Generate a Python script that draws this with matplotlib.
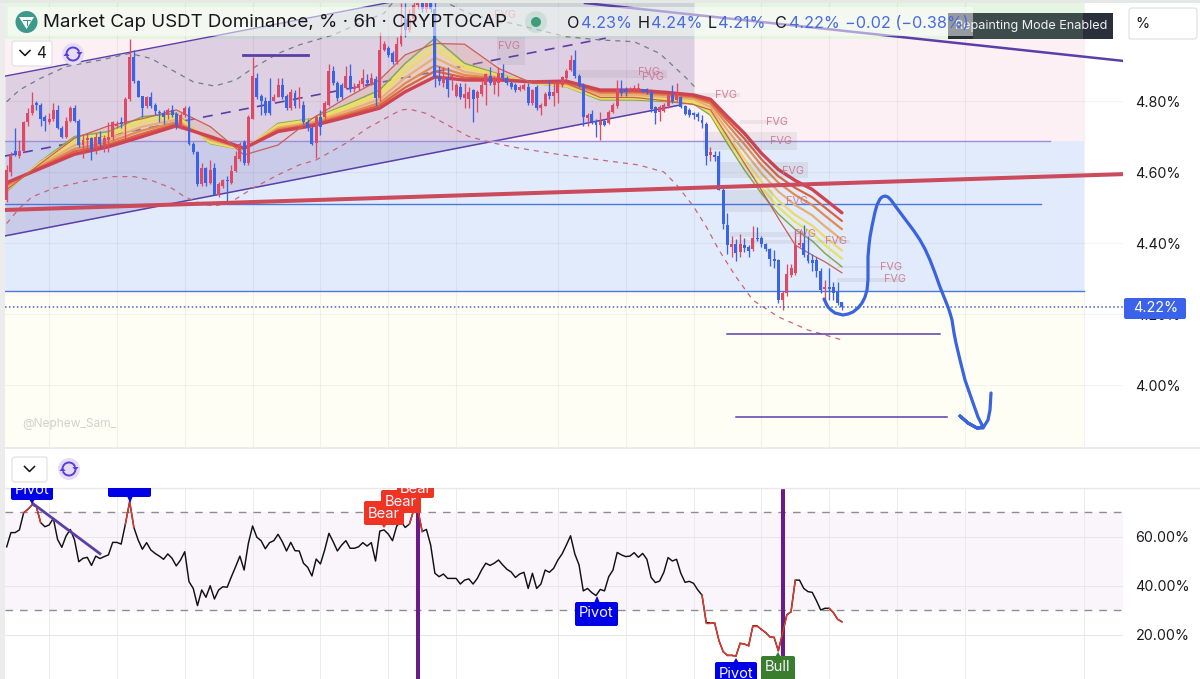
import matplotlib
matplotlib.use("Agg")
import numpy as np
import matplotlib.pyplot as plt
from matplotlib.patches import Rectangle, FancyBboxPatch, Circle, Polygon, Arc

plt.rcParams['font.family'] = ['Inter', 'DejaVu Sans']

# ---------- price candles (one per 6h bar) ----------
opens = [4.52,4.60,4.66,4.645,4.66,4.74,4.765,4.795,4.79,4.755,
 4.74,4.75,4.775,4.725,4.70,4.745,4.78,4.745,4.675,4.69,
 4.695,4.665,4.70,4.67,4.69,4.70,4.73,4.742,4.735,4.805,
 4.925,4.855,4.815,4.785,4.81,4.79,4.77,4.767,4.76,4.775,
 4.763,4.73,4.76,4.78,4.68,4.655,4.565,4.61,4.57,4.61,
 4.535,4.56,4.578,4.57,4.604,4.636,4.685,4.626,4.75,4.865,
 4.815,4.80,4.80,4.80,4.812,4.845,4.815,4.78,4.823,4.805,
 4.79,4.742,4.723,4.683,4.755,4.755,4.79,4.885,4.85,4.845,
 4.838,4.87,4.833,4.838,4.848,4.86,4.85,4.863,4.808,4.945,
 4.948,4.935,4.91,4.96,5.03,5.0,5.03,5.07,5.075,5.06,
 5.075,5.06,4.867,4.85,4.865,4.865,4.815,4.84,4.808,4.805,
 4.83,4.808,4.82,4.845,4.87,4.845,4.85,4.88,4.865,4.85,
 4.845,4.83,4.835,4.84,4.795,4.84,4.78,4.785,4.825,4.815,
 4.822,4.845,4.865,4.888,4.915,4.87,4.845,4.752,4.763,4.745,
 4.733,4.745,4.737,4.77,4.785,4.835,4.835,4.83,4.83,4.83,
 4.833,4.835,4.824,4.782,4.77,4.773,4.786,4.817,4.803,4.812,
 4.786,4.775,4.765,4.763,4.746,4.735,4.648,4.648,4.645,4.55,
 4.451,4.39,4.397,4.375,4.395,4.39,4.382,4.415,4.413,4.398,
 4.382,4.354,4.352,4.24,4.258,4.31,4.315,4.395,4.40,4.366,
 4.352,4.352,4.32,4.27,4.275,4.275,4.263,4.233]
closes = [4.606,4.648,4.648,4.66,4.74,4.765,4.79,4.79,4.75,4.743,
 4.75,4.775,4.725,4.70,4.745,4.78,4.745,4.675,4.69,4.695,
 4.665,4.70,4.68,4.695,4.70,4.74,4.735,4.735,4.805,4.925,
 4.855,4.812,4.78,4.81,4.785,4.773,4.765,4.755,4.775,4.76,
 4.733,4.76,4.78,4.68,4.655,4.565,4.61,4.57,4.605,4.535,
 4.567,4.577,4.575,4.604,4.645,4.68,4.625,4.756,4.87,4.812,
 4.80,4.765,4.765,4.812,4.845,4.812,4.78,4.826,4.785,4.81,
 4.74,4.723,4.68,4.755,4.728,4.795,4.885,4.85,4.808,4.812,
 4.87,4.833,4.84,4.848,4.864,4.85,4.866,4.808,4.943,4.96,
 4.93,4.91,4.96,4.99,5.0,5.03,5.07,5.09,5.06,5.075,
 5.06,4.868,4.855,4.87,4.835,4.87,4.845,4.81,4.82,4.825,
 4.805,4.825,4.845,4.875,4.85,4.865,4.88,4.865,4.85,4.84,
 4.83,4.84,4.845,4.795,4.83,4.78,4.79,4.82,4.815,4.825,
 4.85,4.867,4.885,4.915,4.87,4.842,4.755,4.76,4.74,4.733,
 4.745,4.733,4.77,4.79,4.835,4.822,4.826,4.835,4.836,4.838,
 4.827,4.824,4.777,4.767,4.782,4.789,4.817,4.80,4.817,4.782,
 4.763,4.76,4.761,4.756,4.737,4.645,4.655,4.643,4.55,4.453,
 4.395,4.397,4.373,4.398,4.385,4.378,4.413,4.41,4.398,4.382,
 4.354,4.348,4.24,4.258,4.313,4.33,4.395,4.40,4.366,4.348,
 4.345,4.32,4.268,4.275,4.27,4.26,4.23,4.22]
highs = [4.62,4.655,4.723,4.69,4.745,4.78,4.825,4.80,4.795,4.76,
 4.765,4.795,4.79,4.73,4.755,4.785,4.79,4.75,4.705,4.71,
 4.70,4.71,4.715,4.705,4.74,4.745,4.745,4.755,4.81,4.975,
 4.945,4.86,4.815,4.815,4.825,4.795,4.775,4.775,4.78,4.79,
 4.77,4.765,4.785,4.785,4.685,4.66,4.625,4.615,4.634,4.625,
 4.572,4.58,4.588,4.62,4.66,4.685,4.69,4.76,4.923,4.88,
 4.82,4.81,4.865,4.82,4.865,4.865,4.82,4.835,4.83,4.84,
 4.80,4.75,4.73,4.76,4.775,4.80,4.905,4.90,4.855,4.85,
 4.90,4.905,4.85,4.86,4.89,4.875,4.88,4.87,4.995,4.97,
 4.955,4.94,4.98,5.075,5.075,5.06,5.08,5.12,5.12,5.10,
 5.10,5.09,4.90,4.895,4.895,4.875,4.85,4.85,4.85,4.84,
 4.835,4.83,4.855,4.88,4.895,4.87,4.895,4.905,4.87,4.855,
 4.85,4.845,4.85,4.85,4.835,4.845,4.795,4.825,4.86,4.855,
 4.855,4.87,4.89,4.93,4.945,4.875,4.85,4.765,4.775,4.75,
 4.77,4.75,4.775,4.795,4.86,4.86,4.84,4.84,4.845,4.85,
 4.835,4.838,4.83,4.785,4.79,4.795,4.82,4.845,4.85,4.815,
 4.79,4.78,4.77,4.77,4.76,4.74,4.67,4.66,4.66,4.555,
 4.485,4.42,4.41,4.425,4.413,4.395,4.447,4.445,4.42,4.40,
 4.385,4.38,4.355,4.265,4.34,4.34,4.437,4.437,4.452,4.42,
 4.37,4.36,4.33,4.295,4.33,4.29,4.29,4.235]
lows = [4.515,4.59,4.645,4.64,4.655,4.73,4.76,4.775,4.73,4.715,
 4.735,4.745,4.72,4.695,4.695,4.74,4.74,4.67,4.64,4.665,
 4.635,4.65,4.67,4.655,4.655,4.69,4.725,4.725,4.69,4.80,
 4.85,4.81,4.755,4.78,4.78,4.76,4.74,4.735,4.75,4.755,
 4.72,4.72,4.755,4.675,4.65,4.56,4.56,4.56,4.565,4.535,
 4.53,4.555,4.516,4.565,4.60,4.63,4.62,4.62,4.75,4.805,
 4.76,4.76,4.76,4.80,4.81,4.805,4.775,4.775,4.78,4.78,
 4.735,4.715,4.675,4.64,4.705,4.75,4.785,4.845,4.80,4.805,
 4.835,4.825,4.825,4.83,4.84,4.845,4.845,4.785,4.80,4.94,
 4.925,4.905,4.905,4.955,4.98,4.995,5.02,5.06,5.05,5.05,
 5.05,4.84,4.845,4.84,4.81,4.83,4.81,4.805,4.78,4.78,
 4.74,4.77,4.815,4.79,4.845,4.82,4.815,4.86,4.845,4.835,
 4.825,4.828,4.83,4.79,4.79,4.775,4.76,4.785,4.805,4.785,
 4.795,4.84,4.86,4.885,4.865,4.84,4.73,4.73,4.735,4.70,
 4.69,4.73,4.735,4.765,4.78,4.815,4.815,4.825,4.825,4.825,
 4.825,4.82,4.77,4.735,4.745,4.77,4.78,4.795,4.80,4.78,
 4.76,4.755,4.75,4.745,4.725,4.62,4.63,4.63,4.548,4.44,
 4.37,4.36,4.35,4.36,4.375,4.36,4.378,4.405,4.39,4.378,
 4.335,4.33,4.23,4.21,4.25,4.305,4.31,4.39,4.36,4.345,
 4.32,4.305,4.26,4.225,4.24,4.24,4.225,4.21]

# ---------- moving-average ribbon, sampled at these bars ----------
ribbon_bars = [0,8,16,24,32,40,48,56,64,72,80,88,94,101,108,116,124,132,140,148,156,162,166,170,174,178,182,186,190,193,197]
ma_red = [4.57,4.61,4.65,4.671,4.70,4.73,4.70,4.667,4.714,4.73,4.754,4.78,4.826,4.868,4.859,4.859,4.854,4.856,4.831,4.831,4.824,4.817,4.805,4.756,4.709,4.653,4.607,4.576,4.551,4.523,4.485]
ma_rust = [4.566,4.613,4.658,4.677,4.708,4.735,4.697,4.666,4.717,4.733,4.759,4.788,4.838,4.884,4.866,4.862,4.853,4.853,4.827,4.827,4.82,4.813,4.798,4.745,4.694,4.636,4.588,4.555,4.529,4.50,4.462]
ma_orange = [4.562,4.616,4.665,4.684,4.717,4.74,4.694,4.665,4.721,4.736,4.764,4.795,4.85,4.90,4.873,4.864,4.853,4.85,4.823,4.823,4.816,4.81,4.792,4.733,4.678,4.619,4.57,4.535,4.507,4.477,4.439]
ma_tan = [4.557,4.62,4.675,4.692,4.728,4.747,4.69,4.665,4.725,4.74,4.771,4.805,4.866,4.922,4.882,4.867,4.852,4.847,4.817,4.817,4.811,4.805,4.783,4.718,4.658,4.597,4.545,4.507,4.478,4.447,4.409]
ma_gold = [4.552,4.624,4.685,4.70,4.739,4.754,4.686,4.664,4.73,4.744,4.778,4.816,4.882,4.944,4.892,4.871,4.851,4.844,4.811,4.811,4.806,4.80,4.774,4.703,4.637,4.574,4.52,4.479,4.449,4.417,4.379]
ma_yellow = [4.549,4.627,4.692,4.707,4.748,4.76,4.683,4.663,4.733,4.747,4.784,4.823,4.894,4.96,4.899,4.873,4.851,4.842,4.807,4.807,4.802,4.796,4.767,4.691,4.621,4.557,4.501,4.459,4.428,4.394,4.356]
ma_green = [4.545,4.63,4.70,4.714,4.756,4.765,4.68,4.662,4.737,4.75,4.789,4.831,4.906,4.977,4.906,4.876,4.85,4.84,4.803,4.803,4.798,4.792,4.76,4.68,4.606,4.54,4.482,4.438,4.406,4.371,4.333]
ma_fast = [4.55,4.624,4.695,4.73,4.75,4.775,4.728,4.648,4.676,4.75,4.808,4.86,4.93,4.962,4.96,4.892,4.85,4.85,4.81,4.81,4.80,4.79,4.775,4.70,4.625,4.549,4.47,4.394,4.366,4.347,4.316]

# ---------- envelope curves ----------
upper_bars = [0,3,8,14,22,29,34,39,44,49,54,58,64,69,77,85,89,96,104,110,119,132,140,148,154,160,163]
upper_vals = [4.798,4.831,4.864,4.897,4.915,4.934,4.92,4.887,4.854,4.842,4.859,4.892,4.934,4.958,4.986,5.028,5.047,5.15,5.075,5.042,5.019,4.981,4.972,4.967,4.934,4.868,4.831]
lower_bars = [0,3,6,11,18,25,30,34,39,42,46,49,53,58,64,69,73,80,85,93,95,99,104,109,115,121,131,140,149,155,158,162,165,168,172,176,182,189,197]
lower_vals = [4.455,4.498,4.53,4.554,4.573,4.587,4.587,4.577,4.554,4.53,4.51,4.504,4.516,4.554,4.592,4.62,4.634,4.681,4.723,4.775,4.777,4.765,4.732,4.70,4.681,4.667,4.648,4.634,4.62,4.60,4.564,4.503,4.446,4.38,4.305,4.239,4.192,4.155,4.127]

# ---------- RSI ----------
rsi = [56,61.8,61.8,62.9,69.9,71.3,73.1,72.4,65.9,64.2,
 64.9,67.6,59,55.8,60.4,63.1,58.8,49.9,51.3,51.7,
 48.4,52.2,51.2,52,52.7,57.8,57.8,57.1,65.3,74.4,
 63.9,58.8,55,57.7,54.7,53.3,52.2,50.9,53.1,51.3,
 48.2,50.6,54,41.8,39,32,38.4,35.4,40.1,34.7,
 38.4,39.7,39.5,43.8,47.9,52.2,46.5,57.4,64.5,59.9,
 58.5,55.2,57.7,58.5,61.1,58.1,54.3,57.8,54.4,54.3,
 49.3,47.6,44.1,51,49,54.7,61.5,58.1,54.3,56.7,
 58.5,55.4,55.4,56,57.7,56.3,57.7,50.2,62.4,62.9,
 61.2,58.5,64.5,66.3,63.9,65.3,71,71,62.2,63.1,
 56.7,45.2,43.8,44.9,43.1,43.1,43.1,40.8,42.4,42.9,
 40.8,43.1,46.5,49.3,48.4,49.3,50.6,48.6,46.8,45.7,
 43.5,44.9,45.6,39,45.2,39,40.8,46.5,45.6,47.2,
 50.6,53.1,56.7,60.5,53.1,48.6,38,39,37.3,36.1,
 38.6,38,43.8,46.5,53.7,52.7,52,52.2,53.6,51.7,
 53.3,50.9,43.5,41.4,42,45.6,51.6,50.2,50.9,45.2,
 41.5,41.9,41.1,38.4,36.3,25,25,24.8,17.7,13.2,
 11.7,11.7,11.4,16.6,16.3,15.6,23.7,23.7,22.3,21,
 19.3,19,13.6,20.7,28.2,29.5,42.4,42.4,39,37.7,
 37.4,34,30.2,30.9,30.9,29.1,26.4,25.4]

price_ticks = [4.00, 4.20, 4.40, 4.60, 4.80]
rsi_ticks = [20, 40, 60]
grid_bars = [10,26,42,58,74,90,106,130,146,162,178,194,210,226,254]
last_price = 4.22

# trend lines / levels: (bar_start, bar_end, price_start, price_end)
channel_upper = (-0.4, 162, 4.87, 5.242)
channel_mid = (-0.4, 141.3, 4.645, 4.977)
channel_lower = (-0.4, 159, 4.42, 4.789)
red_trend = (-0.4, 263.3, 4.493, 4.594)
purple_trend = (136.4, 263.3, 5.076, 4.913)
short_level = (55.7, 71, 4.93, 4.93)
target_1 = (170, 220.1, 4.144, 4.144)
target_2 = (172, 221.8, 3.91, 3.91)
zone_top, zone_a, zone_b, zone_c, zone_bottom = 5.076, 4.975, 4.687, 4.265, 3.8254
level_a, level_b, level_c = 4.687, 4.51, 4.265

# ---------- annotation geometry (screen pixels of the 1200x679 canvas) ----------
fvg_labels = [(505,15),(509,46),(649,72),(653,77),(726,95),(777,122),(781,141),(793,171),(797,201),(805,234),(836,241),(891,267),(895,279)]
fvg_boxes = [(497,37,525,65),(577,70,667,78),(693,93,740,97),(740,120,787,124),(703,132,797,150),(720,162,808,178),(725,190,773,212),(730,232,813,237),(730,240,850,243),(837,266,903,268),(837,278,903,282)]
stroke_x = [824,826,828,831,835,839,843,848,853,858,862,865,867,868,868,869,870,872,875,877,880,882,885,888,891,896,902,908,914,920,925,930,935,940,944,948,950,952,954,956,960,965,972,978,983,977,968,960,968,977,983,988,990,991]
stroke_y = [299,303,307,310,313,314,315,314,312,308,303,297,290,280,257,245,237,226,212,205,199,197,196,197,200,207,215,223,231,240,249,260,273,287,297,307,313,320,333,343,360,380,400,417,427,428,423,416,423,428,428,420,410,393]

FIG_W, FIG_H = 1200, 679
fig = plt.figure(figsize=(12, 6.79), dpi=100, facecolor='white')

def pane(x0, y0, x1, y1, z=1):
    return fig.add_axes([x0/FIG_W, 1-y1/FIG_H, (x1-x0)/FIG_W, (y1-y0)/FIG_H], zorder=z)

UP, DOWN = '#dd4a66', '#3a63e6'
GRID = '#e6e6ea'
PURPLE = '#5b3fa8'

# ================= main pane =================
ax = pane(5, 0, 1123, 447)
ax.set_xlim(-0.4, 263.3)
ax.set_ylim(zone_bottom, 5.0845)
ax.set_facecolor('white')
for s in ax.spines.values():
    s.set_visible(False)

for lo, hi, col in [(zone_a, zone_top+.01, '#e6f4e2'), (zone_b, zone_a, '#fdf0f4'),
                    (zone_c, zone_b, '#e2ebfb'), (zone_bottom, zone_c, '#fffef4')]:
    ax.fill_between([-0.4, 254], lo, hi, color=col, lw=0, zorder=0)

for b in grid_bars:
    ax.axvline(b, color='#000000', alpha=0.05, lw=0.8, zorder=1)
for p in price_ticks:
    ax.plot([-0.4, 263.3], [p, p], color='#000000', alpha=0.045, lw=0.8, zorder=1)

def line_val(seg, b):
    return seg[2] + (seg[3]-seg[2])*(b-seg[0])/(seg[1]-seg[0])

ax.fill_between([-0.4, 162], [channel_lower[2], line_val(channel_lower, 162)],
                [channel_upper[2], channel_upper[3]], color='#5a3a9a', alpha=0.18, lw=0, zorder=1.5)
ax.plot(channel_upper[:2], channel_upper[2:], color=PURPLE, lw=1.0, zorder=2)
ax.plot(channel_lower[:2], channel_lower[2:], color=PURPLE, lw=1.1, zorder=2)
ax.plot(channel_mid[:2], channel_mid[2:], color=PURPLE, lw=1.2, ls=(0, (6, 5)), zorder=2)

ax.plot([-0.4, 246], [level_a, level_a], color='#9c8fd8', lw=1.0, zorder=2)
ax.plot([-0.4, 244], [level_b, level_b], color='#4a78e0', lw=1.0, zorder=2)
ax.plot([-0.4, 254], [level_c, level_c], color='#4a78e0', lw=1.0, zorder=2)

ax.plot(upper_bars, upper_vals, color='#6f7f80', lw=0.9, ls=(0, (4, 4)), zorder=2.2)
ax.plot(lower_bars, lower_vals, color='#c8667a', lw=0.9, ls=(0, (4, 4)), zorder=2.2)

# ribbon
rb = np.array(ribbon_bars)
ax.fill_between(ribbon_bars, ma_fast, ma_green, where=(np.array(ma_fast) > np.array(ma_green)) & (rb <= 162),
                interpolate=True, color='#e2a98a', alpha=0.3, lw=0, zorder=2.4)
ax.fill_between(ribbon_bars, ma_red, ma_green, where=rb <= 166, color='#f0cf9a', alpha=0.3, lw=0, zorder=2.5)
for vals, col, lw in [(ma_green, '#8aa84f', 1.1), (ma_yellow, '#e6e45c', 1.6), (ma_gold, '#f0d868', 1.6),
                      (ma_tan, '#e8ae72', 1.6), (ma_orange, '#e28a50', 1.6), (ma_rust, '#db6440', 1.6),
                      (ma_red, '#cf4452', 2.4)]:
    ax.plot(ribbon_bars, vals, color=col, lw=lw, zorder=3, solid_capstyle='round')
ax.plot(ribbon_bars, ma_fast, color='#c8605a', lw=0.9, zorder=3.1)

# candles
o, c, h, l = map(np.array, (opens, closes, highs, lows))
bars = np.arange(len(o))
colors = [UP if a >= b else DOWN for a, b in zip(c, o)]
ax.vlines(bars, l, h, colors=colors, lw=0.95, zorder=4)
ax.bar(bars, np.abs(c-o), bottom=np.minimum(o, c), width=0.7, color=colors, lw=0, zorder=4.1)

ax.plot(red_trend[:2], red_trend[2:], color='#cb4a5c', lw=2.9, zorder=5, solid_capstyle='butt')
ax.plot(purple_trend[:2], purple_trend[2:], color=PURPLE, lw=1.8, zorder=5)
ax.plot(short_level[:2], short_level[2:], color=PURPLE, lw=2.0, zorder=5)
ax.plot(target_1[:2], target_1[2:], color=PURPLE, lw=1.1, zorder=5)
ax.plot(target_2[:2], target_2[2:], color=PURPLE, lw=1.1, zorder=5)
ax.plot([-0.4, 263.3], [last_price, last_price], color='#3a63e6', lw=1.1, ls=(0, (1, 1.6)), zorder=5)

ax.xaxis.set_visible(False)
ax.yaxis.tick_right()
ax.set_yticks(price_ticks)
ax.set_yticklabels([f'{p:.2f}%' for p in price_ticks], fontsize=10.3, color='#1c1c20')
ax.tick_params(axis='y', length=0, pad=9)

# ================= RSI pane =================
ar = pane(5, 488, 1123, 679)
ar.set_xlim(-0.4, 263.3)
ar.set_ylim(2.04, 80)
for s in ar.spines.values():
    s.set_visible(False)
ar.fill_between([-0.4, 263.3], 30, 70, color='#f9f5fb', lw=0, zorder=0)
for b in grid_bars:
    ar.axvline(b, color=GRID, lw=0.7, alpha=.8, zorder=1)
for t in rsi_ticks:
    ar.plot([-0.4, 263.3], [t, t], color=GRID, lw=0.7, zorder=1)
for t in (30, 70):
    ar.plot([-0.4, 263.3], [t, t], color='#8e8e92', lw=1.0, ls=(0, (5.5, 5)), zorder=1.5)
ar.plot(np.arange(len(rsi)), rsi, color='#111111', lw=1.05, zorder=3)
rv = np.array(rsi)
for i in range(len(rv)-1):
    if rv[i] > 70 or rv[i+1] > 70 or (rv[i] < 30 or rv[i+1] < 30) or 164 <= i <= 185:
        ar.plot([i, i+1], [rv[i], rv[i+1]], color='#e0392b', lw=1.05, zorder=3.1)
ar.axvline(97, color='#6a1b85', lw=2.9, zorder=2.5)
ar.axvline(183, color='#6a1b85', lw=2.9, zorder=2.5)
ar.plot([6.2, 22], [73.6, 53.2], color=PURPLE, lw=2.0, zorder=3.2)
ar.xaxis.set_visible(False)
ar.yaxis.tick_right()
ar.set_yticks(rsi_ticks)
ar.set_yticklabels([f'{t:.2f}%' for t in rsi_ticks], fontsize=10.3, color='#1c1c20')
ar.tick_params(axis='y', length=0, pad=9)

# ================= RSI labels overlay =================
al = pane(5, 488, 1123, 679, z=3)
al.set_xlim(5, 1123)
al.set_ylim(679, 488)
al.axis('off')
al.patch.set_alpha(0)

def tag(x0, y0, x1, y1, tipx, tipy, col, text=None, ty=None, tx=None, up=False):
    al.add_patch(FancyBboxPatch((x0+2, y0+2), x1-x0-4, y1-y0-4, boxstyle='round,pad=2,rounding_size=2',
                                fc=col, ec='none', zorder=5))
    base = y1-1 if not up else y0+1
    al.add_patch(Polygon([(tipx-3, base), (tipx+3, base), (tipx, tipy)], fc=col, ec='none', zorder=5))
    if text:
        t = al.text(tx if tx else (x0+x1)/2, ty, text, color='#f4f4ff', fontsize=10.6, ha='center', va='center', zorder=6)
        t.set_clip_on(True)

tag(11, 470, 53, 500, 32, 504, '#0000e6', 'Pivot', 490)
tag(108, 470, 151, 497, 130, 503, '#0000e6')
tag(397, 470, 434, 498, 415, 500, '#ee3524', 'Bear', 489)
tag(364, 501, 404, 525, 384, 528, '#ee3524', 'Bear', 514)
tag(381, 490, 421, 513, 400, 516, '#ee3524', 'Bear', 502)
tag(575, 602, 618, 626, 597, 596, '#0000e6', 'Pivot', 613, up=True)
tag(715, 662, 757, 700, 736, 658, '#0000e6', 'Pivot', 674, up=True)
tag(761, 656, 795, 700, 778, 652, '#3a7d2c', 'Bull', 667, up=True)

# ================= chrome overlay =================
ui = pane(0, 0, 1200, 679, z=2)
ui.set_xlim(0, 1200)
ui.set_ylim(679, 0)
ui.axis('off')
ui.patch.set_alpha(0)

ui.add_patch(Rectangle((0, 0), 5, 679, fc='#ececec', ec='none', zorder=1))
ui.add_patch(Rectangle((0, 0), 1200, 3, fc='#e6e8e6', ec='none', zorder=1))
ui.plot([5, 1200], [447.5, 447.5], color='#e8e8ea', lw=1.2, zorder=1)
ui.plot([5, 1200], [488, 488], color='#e8e8ea', lw=1.0, zorder=1)

for x0, y0, x1, y1 in fvg_boxes:
    ui.add_patch(Rectangle((x0, y0), x1-x0, y1-y0, fc='#555566', alpha=0.09, ec='none', zorder=2))
for x, y in fvg_labels:
    ui.text(x, y, 'FVG', color='#cf6f85', alpha=.85, fontsize=7.8, ha='center', va='center', zorder=3)

ui.plot(stroke_x, stroke_y, color='#3a63e0', lw=2.3, solid_joinstyle='round', solid_capstyle='round', zorder=6)

# price tag
ui.add_patch(FancyBboxPatch((1125, 299), 60, 19, boxstyle='round,pad=1,rounding_size=2', fc='#3a62ea', ec='none', zorder=6))
ui.text(1155.5, 308.5, '4.22%', color='white', fontsize=10.3, ha='center', va='center', zorder=7)

ui.text(22, 424, '@Nephew_Sam_', color='#d2d2cc', fontsize=8.6, ha='left', va='center', zorder=3)

# repainting badge then header veil
ui.add_patch(Rectangle((948, 13), 165, 26, fc='#1e2430', alpha=0.95, ec='none', zorder=7))
ui.add_patch(Rectangle((973, 13), 110, 26, fc='#9fd49a', alpha=0.18, ec='none', zorder=7.1))
ui.add_patch(Rectangle((8, 7), 965, 28.5, fc='white', alpha=0.52, ec='none', zorder=8))
ui.text(955, 26.5, 'Repainting Mode Enabled', color='#eef0f2', fontsize=9.1, ha='left', va='center', zorder=9)

ui.add_patch(Circle((26.5, 22), 11, fc='#3d9a8b', ec='none', zorder=9))
ui.add_patch(Polygon([(19, 17), (34, 17), (26.5, 29)], fc='white', ec='none', zorder=10))
ui.plot([23, 30], [20, 20], color='#3d9a8b', lw=0.8, zorder=11)
ui.plot([26.5, 26.5], [20, 25], color='#3d9a8b', lw=0.8, zorder=11)

ui.text(43, 22.5, 'Market Cap USDT Dominance, % · 6h · CRYPTOCAP', color='#18181c', fontsize=13.5, ha='left', va='center', zorder=9)
ui.add_patch(Circle((536, 22), 11, fc='#3f9e78', alpha=0.15, ec='none', zorder=9))
ui.add_patch(Circle((536, 22), 5, fc='#3f9e78', ec='none', zorder=9.5))

VAL = '#4a6ae0'
for x, s, col in [(567, 'O', '#18181c'), (581, '4.23%', VAL), (638, 'H', '#18181c'), (651, '4.24%', VAL),
                  (708, 'L', '#18181c'), (718, '4.21%', VAL), (775, 'C', '#18181c'), (789, '4.22%', VAL),
                  (845, '−0.02 (−0.38%)', VAL)]:
    ui.text(x, 23, s, color=col, fontsize=11.7, ha='left', va='center', zorder=10)

# buttons
def button(x0, y0, x1, y1):
    ui.add_patch(FancyBboxPatch((x0+3, y0+3), x1-x0-6, y1-y0-6, boxstyle='round,pad=3,rounding_size=3',
                                fc='white', ec='#e2e2e6', lw=0.9, zorder=9))

def chevron(x, y):
    ui.plot([x-5, x, x+5], [y-2.5, y+2.5, y-2.5], color='#111111', lw=1.1, zorder=10)

def refresh(x, y):
    ui.add_patch(Circle((x, y), 11, fc='#e6dcf8', ec='none', zorder=9))
    ui.add_patch(Arc((x, y), 13, 13, theta1=190, theta2=340, color='#5a3fd6', lw=1.4, zorder=10))
    ui.add_patch(Arc((x, y), 13, 13, theta1=10, theta2=160, color='#5a3fd6', lw=1.4, zorder=10))
    ui.add_patch(Polygon([(x+3.5, y-2), (x+9.5, y-2), (x+6.5, y+2)], fc='#5a3fd6', ec='none', zorder=10))
    ui.add_patch(Polygon([(x-3.5, y+2), (x-9.5, y+2), (x-6.5, y-2)], fc='#5a3fd6', ec='none', zorder=10))

button(12, 41, 52, 66)
chevron(25, 53)
ui.text(41, 54, '4', color='#18181c', fontsize=11, ha='center', va='center', zorder=10)
refresh(73, 54)
button(12, 457, 47, 482)
chevron(29.5, 469)
refresh(69, 469)
button(1129, 8, 1197, 39)
ui.text(1135, 24, '%', color='#18181c', fontsize=10.3, ha='left', va='center', zorder=10)

fig.savefig('out.png', dpi=100, facecolor='white')
